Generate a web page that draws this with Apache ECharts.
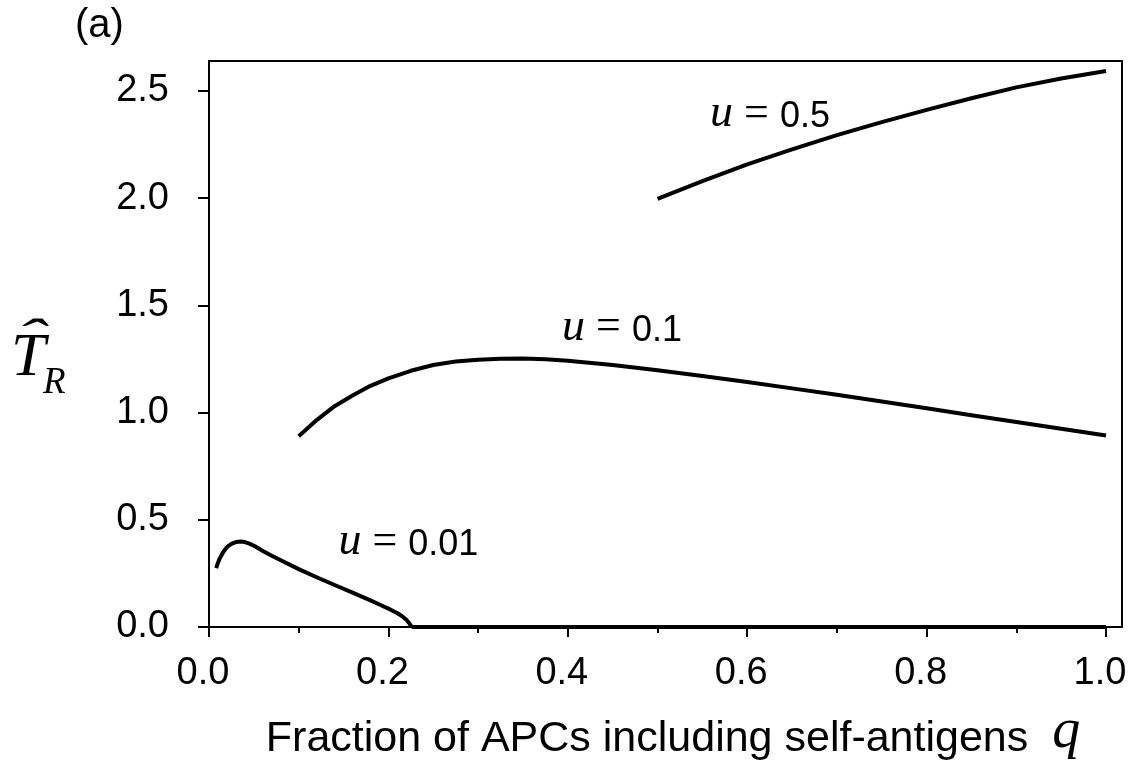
<!DOCTYPE html>
<html>
<head>
<meta charset="utf-8">
<script src="https://cdn.jsdelivr.net/npm/echarts@6/dist/echarts.min.js"></script>
<style>
html,body{margin:0;padding:0;background:#fff;}
#chart{width:1133px;height:767px;}
</style>
</head>
<body>
<div id="chart"></div>
<script>
// ---- data ----
const xMajorTicks = [0, 0.2, 0.4, 0.6, 0.8, 1.0];
const xMinorTicks = [0.1, 0.3, 0.5, 0.7, 0.9];
const yTicks = [0, 0.5, 1.0, 1.5, 2.0, 2.5];

// u = 0.01  [q, T_R]  (positive branch)
const curveU001 = [[0.008,0.275],[0.01,0.30],[0.012,0.32],[0.015,0.343],[0.018,0.362],[0.021,0.376],[0.025,0.388],[0.03,0.396],[0.035,0.399],[0.04,0.396],[0.045,0.389],[0.05,0.379],[0.055,0.367],[0.06,0.355],[0.07,0.332],[0.08,0.311],[0.10,0.27],[0.12,0.232],[0.14,0.196],[0.16,0.16],[0.18,0.124],[0.19,0.105],[0.20,0.086],[0.21,0.064],[0.215,0.051],[0.22,0.034],[0.223,0.019],[0.226,0]];
// u = 0.01  (zero branch)
const curveU001Zero = [[0.226,0],[1.0,0]];
// u = 0.1
const curveU01 = [[0.1,0.89],[0.12,0.965],[0.14,1.03],[0.16,1.08],[0.18,1.125],[0.2,1.16],[0.225,1.195],[0.25,1.222],[0.275,1.238],[0.3,1.247],[0.325,1.251],[0.35,1.252],[0.375,1.249],[0.4,1.242],[0.45,1.222],[0.5,1.198],[0.55,1.171],[0.6,1.143],[0.65,1.113],[0.7,1.083],[0.75,1.052],[0.8,1.02],[0.85,0.988],[0.9,0.956],[0.95,0.925],[1.0,0.893]];
// u = 0.5
const curveU05 = [[0.5,1.997],[0.55,2.08],[0.6,2.158],[0.65,2.228],[0.7,2.294],[0.75,2.355],[0.8,2.412],[0.85,2.466],[0.9,2.517],[0.95,2.558],[1.0,2.593]];

const curveNames = ['0.01', '0.1', '0.5'];
const labelAnchors = [[0.2223, 0.396], [0.4604, 1.395], [0.6254, 2.393]];

const X_MAX = 1.0178;
const Y_MAX = 2.64;

const sans = '"Liberation Sans", Arial, Helvetica, sans-serif';
const serif = '"Liberation Serif", "Times New Roman", serif';

const chart = echarts.init(document.getElementById('chart'), null, {renderer: 'canvas'});

const lineSeries = [curveU001, curveU001Zero, curveU01, curveU05].map(function (d) {
  return {
    type: 'line',
    data: d,
    symbol: 'none',
    clip: false,
    smooth: false,
    lineStyle: {color: '#000', width: 4, cap: 'butt', join: 'round'},
    silent: true,
    z: 3
  };
});

const labelSeries = {
  type: 'scatter',
  symbolSize: 0,
  silent: true,
  z: 5,
  itemStyle: {opacity: 1, color: '#000'},
  data: labelAnchors.map(function (p, i) {
    return {
      value: p,
      label: {
        show: true,
        position: 'inside',
        formatter: '{u|u}{e| = }{n|' + curveNames[i] + '}'
      }
    };
  }),
  label: {
    show: true,
    color: '#000',
    rich: {
      u: {fontFamily: serif, fontStyle: 'italic', fontSize: 46, color: '#000'},
      e: {fontFamily: serif, fontSize: 44, color: '#000'},
      n: {fontFamily: sans, fontSize: 36, color: '#000', padding: [6, 0, 0, 0]}
    }
  }
};

const option = {
  backgroundColor: '#fff',
  animation: false,
  grid: {
    left: 209, right: 11, top: 61, bottom: 140,
    show: true, borderColor: '#000', borderWidth: 2, backgroundColor: 'transparent'
  },
  xAxis: [{
    type: 'value',
    min: 0, max: X_MAX,
    position: 'bottom',
    axisLine: {show: true, onZero: false, lineStyle: {color: '#000', width: 2}},
    axisTick: {show: true, length: 10, customValues: xMajorTicks, lineStyle: {color: '#000', width: 2}},
    axisLabel: {
      show: true, customValues: xMajorTicks, margin: 28,
      fontFamily: sans, fontSize: 38, color: '#000',
      padding: [0, 12, 0, 0],
      formatter: function (v) { return v.toFixed(1); }
    },
    splitLine: {show: false},
    name: '{a|Fraction of APCs including self-antigens  }{q|q}',
    nameLocation: 'middle',
    nameGap: 77,
    nameTextStyle: {
      padding: [0, 0, 0, 15],
      rich: {
        a: {fontFamily: sans, fontSize: 43, color: '#000'},
        q: {fontFamily: serif, fontStyle: 'italic', fontSize: 56, color: '#000', padding: [0, 0, 14, 0]}
      }
    }
  }, {
    type: 'value',
    min: 0, max: X_MAX,
    position: 'bottom',
    axisLine: {show: false, onZero: false},
    axisTick: {show: true, length: 6, customValues: xMinorTicks, lineStyle: {color: '#000', width: 2}},
    axisLabel: {show: false},
    splitLine: {show: false}
  }],
  yAxis: {
    type: 'value',
    min: 0, max: Y_MAX,
    axisLine: {show: true, onZero: false, lineStyle: {color: '#000', width: 2}},
    axisTick: {show: true, length: 11, customValues: yTicks, lineStyle: {color: '#000', width: 2}},
    axisLabel: {
      show: true, customValues: yTicks, margin: 40,
      fontFamily: sans, fontSize: 38, color: '#000',
      padding: [6, 0, 0, 0],
      formatter: function (v) { return v.toFixed(1); }
    },
    splitLine: {show: false}
  },
  graphic: [
    {type: 'text', x: 75, y: 25.5, style: {text: '(a)', font: '40px ' + sans, fill: '#000', align: 'left', verticalAlign: 'middle'}},
    {type: 'text', x: 11, y: 359, style: {text: 'T', font: 'italic 62px ' + serif, fill: '#000', align: 'left', verticalAlign: 'middle'}},
    {type: 'text', x: 30, y: 339.5, scaleY: 0.55, style: {text: '\u02C6', font: 'italic 90px ' + serif, fill: '#000', align: 'center', verticalAlign: 'middle'}},
    {type: 'text', x: 43, y: 383.5, style: {text: 'R', font: 'italic 37px ' + serif, fill: '#000', align: 'left', verticalAlign: 'middle'}}
  ],
  series: lineSeries.concat([labelSeries])
};

chart.setOption(option);
</script>
</body>
</html>
